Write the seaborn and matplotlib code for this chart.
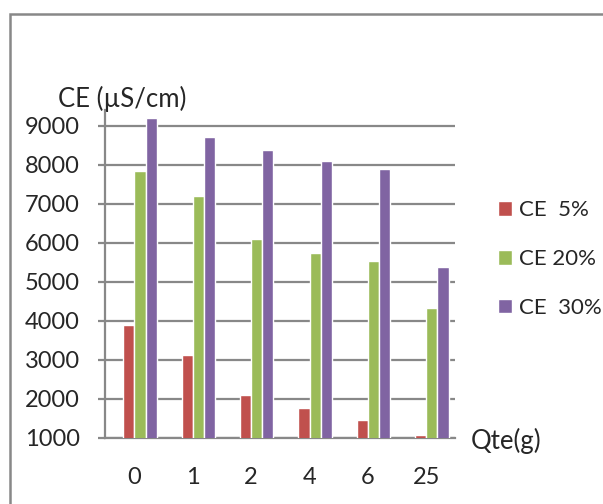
import pandas as pd
import numpy as np
import matplotlib
matplotlib.use('Agg')
import matplotlib.pyplot as plt
import seaborn as sns
from matplotlib.patches import Rectangle

# values
qte = ['0', '1', '2', '4', '6', '25']
ce_5 = [3900, 3130, 2100, 1770, 1460, 1070]
ce_20 = [7850, 7200, 6100, 5740, 5540, 4330]
ce_30 = [9200, 8720, 8380, 8100, 7900, 5380]
series = ['CE  5%', 'CE 20%', 'CE  30%']
colors = ['#C0504D', '#9BBB59', '#8064A2']

df = pd.DataFrame({'Qte': qte * 3,
                   'CE': ce_5 + ce_20 + ce_30,
                   'serie': [s for s in series for _ in qte]})

sns.set_style('white')
plt.rcParams['font.family'] = ['Lato', 'DejaVu Sans']

fig = plt.figure(figsize=(6.03, 5.04), dpi=100)
ax = fig.add_axes([0.174, 0.131, 0.581, 0.650])

sns.barplot(data=df, x='Qte', y='CE', hue='serie', palette=colors,
            width=0.57, ax=ax, saturation=1)
# excel draws the clusters a bit right of the category centre
for p in ax.patches:
    p.set_x(p.get_x() + 0.1)

ax.set_ylim(1000, 9400)
ax.set_xlim(-0.5, 5.5)
ax.set_yticks(range(1000, 10000, 1000))
ax.yaxis.grid(True, color='#888888', lw=1.6)
ax.set_axisbelow(True)
for s in ['top', 'right']:
    ax.spines[s].set_visible(False)
for s in ['left', 'bottom']:
    ax.spines[s].set_color('#888888')
    ax.spines[s].set_linewidth(1.6)
    ax.spines[s].set_zorder(0.5)
ax.set_xticks(np.arange(-0.5, 6, 1), minor=True)
ax.tick_params(axis='x', which='major', length=0, pad=21, labelsize=17)
ax.tick_params(axis='x', which='minor', length=6.5, width=1.6, color='#888888', direction='out')
ax.tick_params(axis='y', length=5, width=1.6, color='#888888', pad=13, labelsize=17, left=True)
ax.set_xlabel('')
ax.set_ylabel('')

ax.legend(title=None, frameon=False, fontsize=16, loc='center left',
          bbox_to_anchor=(1.089, 0.546), borderpad=0, labelspacing=1.29,
          handlelength=0.63, handleheight=0.63, handletextpad=0.35)

fig.text(58 / 603, 1 - 99 / 504, 'CE (µS/cm)', fontsize=18.5, va='center', ha='left')
fig.text(471 / 603, 1 - 441 / 504, 'Qte(g)', fontsize=18.5, va='center', ha='left')

fig.patches.append(Rectangle((10 / 603, -0.05), 1.1, 1.05 - 14 / 504, transform=fig.transFigure,
                             fill=False, edgecolor='#888888', lw=1.8))

fig.savefig('out.png', dpi=100, facecolor='white')
